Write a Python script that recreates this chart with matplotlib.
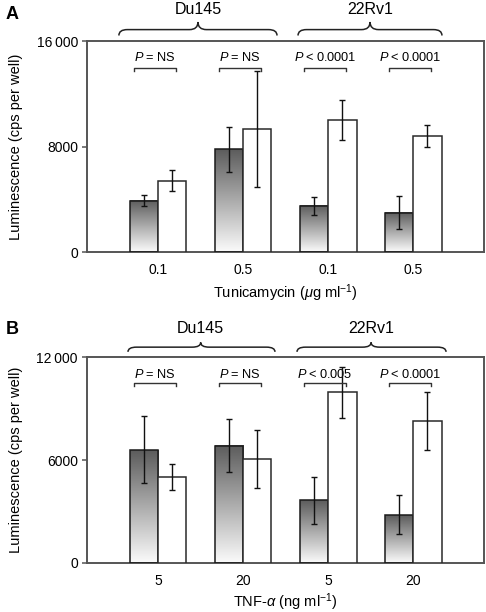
import numpy as np
import matplotlib
matplotlib.use('Agg')
import matplotlib.pyplot as plt
from matplotlib.path import Path
from matplotlib.patches import PathPatch
import matplotlib.transforms as mtransforms
from matplotlib.colors import LinearSegmentedColormap

plt.rcParams['font.family'] = ['Liberation Sans', 'DejaVu Sans']
plt.rcParams['mathtext.fontset'] = 'custom'
plt.rcParams['mathtext.rm'] = 'Liberation Sans'
plt.rcParams['mathtext.it'] = 'Liberation Sans:italic'
plt.rcParams['mathtext.default'] = 'it'

# ---- data ----
cell_lines = ['Du145', '22Rv1']
tun_doses = ['0.1', '0.5', '0.1', '0.5']
tun_dark = [3900, 7800, 3500, 3000]
tun_dark_err = [400, 1700, 700, 1250]
tun_light = [5400, 9300, 10000, 8800]
tun_light_err = [800, 4400, 1500, 800]
tun_p = ['= NS', '= NS', '< 0.0001', '< 0.0001']

tnf_doses = ['5', '20', '5', '20']
tnf_dark = [6600, 6850, 3650, 2800]
tnf_dark_err = [1950, 1570, 1370, 1150]
tnf_light = [5000, 6050, 9950, 8300]
tnf_light_err = [760, 1700, 1500, 1700]
tnf_p = ['= NS', '= NS', '< 0.005', '< 0.0001']

grad_cmap = LinearSegmentedColormap.from_list('g', ['#fbfbfb', '#5c5c5c'])
SPINE = '#555555'


def draw_brace(ax, x0, x1, xm, yb, yf, yt, r=0.1):
    trans = mtransforms.blended_transform_factory(ax.transData, ax.transAxes)
    verts = [(x0, yb), (x0, yf), (x0 + r, yf), (xm - r, yf), (xm, yf), (xm, yt),
             (xm, yf), (xm + r, yf), (x1 - r, yf), (x1, yf), (x1, yb)]
    codes = [Path.MOVETO, Path.CURVE3, Path.CURVE3, Path.LINETO, Path.CURVE3, Path.CURVE3,
             Path.CURVE3, Path.CURVE3, Path.LINETO, Path.CURVE3, Path.CURVE3]
    patch = PathPatch(Path(verts, codes), facecolor='none', edgecolor='#222222',
                      lw=1.1, transform=trans, clip_on=False)
    ax.add_patch(patch)


def panel(ax, doses, dark, dark_err, light, light_err, pvals, ymax, yticks, yticklabels,
          xlabel, braces, label_y, brace_y, br_y, ptxt_y):
    x = np.arange(len(doses))
    w = 0.335
    xd = x - w / 2
    xl = x + w / 2
    grad = np.linspace(0, 1, 256).reshape(-1, 1)
    for xi, h in zip(xd, dark):
        ax.imshow(grad, cmap=grad_cmap, origin='lower', aspect='auto',
                  extent=[xi - w / 2, xi + w / 2, 0, h], zorder=2, interpolation='bilinear')
    ax.bar(xd, dark, w, facecolor='none', edgecolor='#1a1a1a', lw=1.1, zorder=3)
    ax.bar(xl, light, w, facecolor='white', edgecolor='#2a2a2a', lw=1.1, zorder=3)
    for xx, yy, ee in ((xd, dark, dark_err), (xl, light, light_err)):
        ax.errorbar(xx, yy, yerr=ee, fmt='none', ecolor='#111111', elinewidth=1.0,
                    capsize=2.2, capthick=1.0, zorder=4)
    ax.set_xlim(-0.835, 3.835)
    ax.set_ylim(0, ymax)
    ax.set_yticks(yticks)
    ax.set_yticklabels(yticklabels, fontsize=10)
    ax.set_xticks(x)
    ax.set_xticklabels(doses, fontsize=10)
    ax.tick_params(axis='y', direction='out', length=3.5, width=1.1, color=SPINE, pad=3)
    ax.tick_params(axis='x', length=0, pad=8)
    for s in ax.spines.values():
        s.set_color(SPINE)
        s.set_linewidth(1.4)
    ax.set_xlabel(xlabel, fontsize=10.5)
    ax.xaxis.set_label_coords(0.5, -0.142)
    ax.set_ylabel('Luminescence (cps per well)', fontsize=10.5)
    ax.yaxis.set_label_coords(-0.162, 0.5)

    trans = mtransforms.blended_transform_factory(ax.transData, ax.transAxes)
    for i, p in enumerate(pvals):
        b0, b1 = x[i] - 0.28, x[i] + 0.21
        ax.plot([b0, b0, b1, b1], [br_y - 0.014, br_y, br_y, br_y - 0.014], color='#333333',
                lw=1.0, transform=trans, clip_on=False, zorder=5)
        ax.text((b0 + b1) / 2, ptxt_y, r'$P$' + '\u2009' + p, fontsize=9.2, ha='center',
                va='center', transform=trans)

    for name, (x0, x1, xm) in zip(cell_lines, braces):
        draw_brace(ax, x0, x1, xm, *brace_y)
        ax.text(xm, label_y, name, fontsize=11.5, ha='center', va='center', transform=trans)


fig = plt.figure(figsize=(4.86, 6.12), dpi=100)
axA = fig.add_axes([0.179, 0.588, 0.817, 0.345])
axB = fig.add_axes([0.179, 0.0806, 0.817, 0.3354])

panel(axA, tun_doses, tun_dark, tun_dark_err, tun_light, tun_light_err, tun_p,
      16000, [0, 8000, 16000], ['0', '8000', '16\u2009000'],
      r'Tunicamycin ($\mu$g ml$^{\mathrm{-1}}$)',
      braces=[(-0.46, 1.40, 0.47), (1.647, 3.34, 2.494)],
      label_y=1.147, brace_y=(1.026, 1.054, 1.09), br_y=0.871, ptxt_y=0.92)

panel(axB, tnf_doses, tnf_dark, tnf_dark_err, tnf_light, tnf_light_err, tnf_p,
      12000, [0, 6000, 12000], ['0', '6000', '12\u2009000'],
      r'TNF-$\alpha$ (ng ml$^{\mathrm{-1}}$)',
      braces=[(-0.353, 1.376, 0.502), (1.635, 3.388, 2.506)],
      label_y=1.142, brace_y=(1.027, 1.05, 1.073), br_y=0.873, ptxt_y=0.915)

fig.text(0.012, 0.977, 'A', fontsize=13, fontweight='bold', va='center')
fig.text(0.012, 0.462, 'B', fontsize=13, fontweight='bold', va='center')

fig.savefig('out.png', dpi=100)
